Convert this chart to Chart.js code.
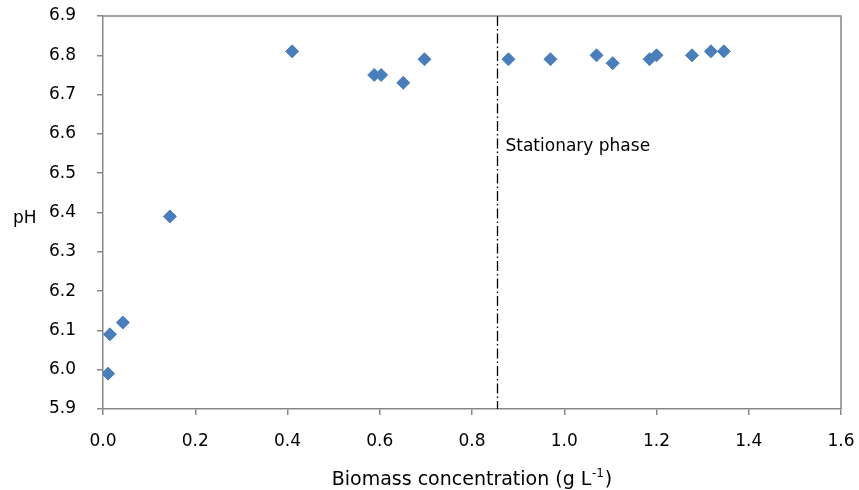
<!DOCTYPE html>
<html><head><meta charset="utf-8">
<script src="https://cdn.jsdelivr.net/npm/chart.js@4.4.1/dist/chart.umd.min.js"></script>
<style>html,body{margin:0;padding:0;background:#fff;}#wrap{width:859px;height:490px;position:relative;}</style>
</head><body><div id="wrap"><canvas id="c" width="859" height="490"></canvas></div>
<script>
const biomass = [0.011, 0.015, 0.043, 0.145, 0.41, 0.588, 0.603, 0.651, 0.697, 0.879, 0.970, 1.070, 1.105, 1.185, 1.200, 1.277, 1.318, 1.346];
const pH = [5.99, 6.09, 6.12, 6.39, 6.81, 6.75, 6.75, 6.73, 6.79, 6.79, 6.79, 6.80, 6.78, 6.79, 6.80, 6.80, 6.81, 6.81];
const stationaryX = 0.855;
const stationaryLabel = "Stationary phase";
const xTitleMain = "Biomass concentration (g L";
const xTitleSup = "-1";
const xTitleEnd = ")";
const yTitle = "pH";
const FONT = "'DejaVu Sans', sans-serif";
const AXIS = "#878787";

const extras = {
  id: 'extras',
  afterDatasetsDraw(chart) {
    const {ctx, chartArea: a, scales} = chart;
    ctx.save();
    ctx.strokeStyle = AXIS; ctx.lineWidth = 1.5;
    ctx.beginPath();
    ctx.moveTo(a.left, a.top); ctx.lineTo(a.right, a.top); ctx.lineTo(a.right, a.bottom);
    ctx.stroke();
    const px = Math.round(scales.x.getPixelForValue(stationaryX)) + 0.5;
    ctx.strokeStyle = '#000'; ctx.lineWidth = 1.3;
    ctx.setLineDash([10, 3, 1.5, 3]);
    ctx.beginPath(); ctx.moveTo(px, a.top); ctx.lineTo(px, a.bottom); ctx.stroke();
    ctx.setLineDash([]);
    ctx.fillStyle = '#000';
    ctx.textBaseline = 'alphabetic'; ctx.textAlign = 'left';
    ctx.font = "17px " + FONT;
    ctx.fillText(stationaryLabel, px + 8, 151);
    ctx.font = "17px " + FONT;
    ctx.fillText(yTitle, 13, 223);
    const big = "19px " + FONT, small = "12px " + FONT;
    ctx.font = big;
    const w1 = ctx.measureText(xTitleMain).width;
    const w3 = ctx.measureText(xTitleEnd).width;
    ctx.font = small;
    const w2 = ctx.measureText(xTitleSup).width;
    const cx = (a.left + a.right) / 2;
    const x0 = cx - (w1 + w2 + w3 + 1.5) / 2;
    const base = 485;
    ctx.font = big;
    ctx.fillText(xTitleMain, x0, base);
    ctx.font = small;
    ctx.fillText(xTitleSup, x0 + w1 + 0.5, base - 8);
    ctx.font = big;
    ctx.fillText(xTitleEnd, x0 + w1 + w2 + 1.5, base);
    ctx.restore();
  }
};

new Chart(document.getElementById('c'), {
  type: 'scatter',
  data: { datasets: [{
    data: biomass.map((x, i) => ({x, y: pH[i]})),
    pointStyle: 'rectRot', pointRadius: 6.5, pointHoverRadius: 6.5,
    backgroundColor: '#4A7EBB', borderColor: '#4A7EBB', borderWidth: 1
  }]},
  options: {
    responsive: false, animation: false, devicePixelRatio: 1,
    layout: { padding: { left: 0, top: 16, right: 18, bottom: 0 } },
    plugins: { legend: { display: false }, tooltip: { enabled: false } },
    scales: {
      x: {
        type: 'linear', min: 0, max: 1.6,
        ticks: { stepSize: 0.2, color: '#000', font: { family: FONT, size: 17 }, padding: 16,
                 callback: v => Number(v).toFixed(1) },
        grid: { drawOnChartArea: false, drawTicks: true, tickLength: 6, color: AXIS, lineWidth: 1.5 },
        border: { color: AXIS, width: 1.5 },
        afterFit: s => { s.height = 81; s.paddingLeft = 0; s.paddingRight = 0; }
      },
      y: {
        min: 5.9, max: 6.9,
        ticks: { stepSize: 0.1, color: '#000', font: { family: FONT, size: 17 }, padding: 21,
                 callback: v => Number(v).toFixed(1) },
        grid: { drawOnChartArea: false, drawTicks: true, tickLength: 6, color: AXIS, lineWidth: 1.5 },
        border: { color: AXIS, width: 1.5 },
        afterFit: s => { s.width = 103; s.paddingTop = 0; s.paddingBottom = 0; }
      }
    }
  },
  plugins: [extras]
});
</script></body></html>
